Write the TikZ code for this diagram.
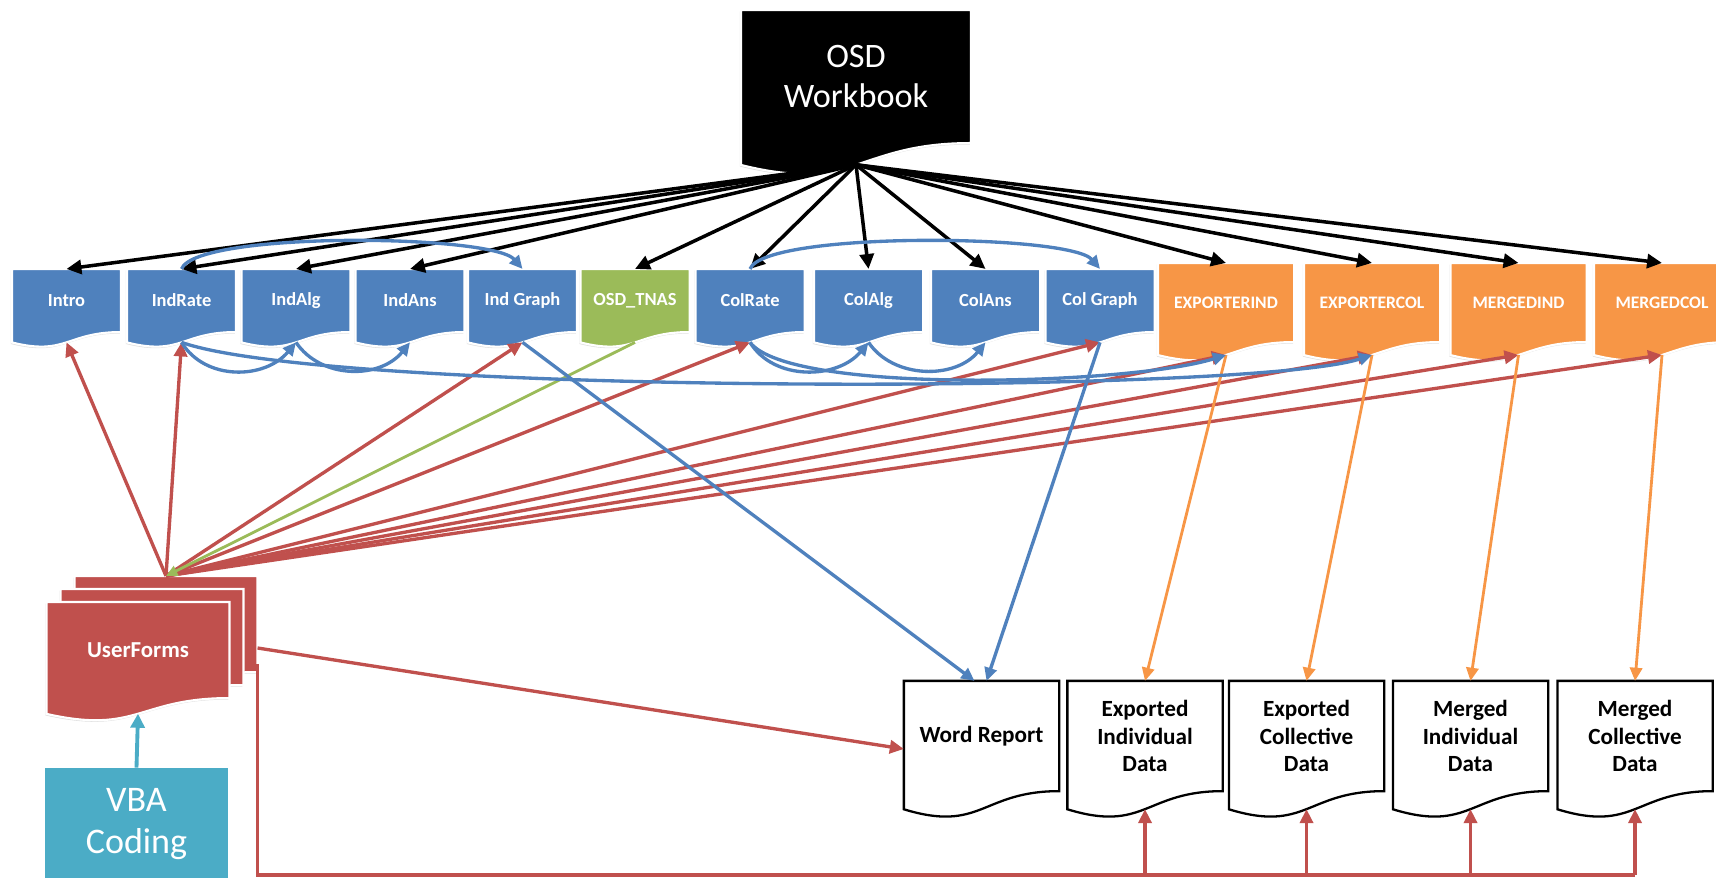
\documentclass[tikz,border=0pt]{standalone}
\usepackage{fontspec}
\setmainfont{Carlito}
\usetikzlibrary{arrows.meta, shadows, calc}

\definecolor{osdblue}{HTML}{4F81BD}
\definecolor{osdgreen}{HTML}{9BBB59}
\definecolor{osdorange}{HTML}{F79646}
\definecolor{osdred}{HTML}{C0504D}
\definecolor{osdteal}{HTML}{4BACC6}

% document shape: box with a wavy lower edge
\makeatletter
\pgfdeclareshape{sheet}{%
  \inheritsavedanchors[from=rectangle]%
  \inheritanchorborder[from=rectangle]%
  \inheritanchor[from=rectangle]{center}%
  \inheritanchor[from=rectangle]{north}%
  \inheritanchor[from=rectangle]{east}%
  \inheritanchor[from=rectangle]{west}%
  \inheritanchor[from=rectangle]{north east}%
  \inheritanchor[from=rectangle]{north west}%
  \anchor{south}{%
    \southwest \pgf@xa=\pgf@x \pgf@ya=\pgf@y
    \northeast
    \pgf@x=.5\pgf@x \advance\pgf@x by .5\pgf@xa
    \pgf@yb=\pgf@y
    \pgf@y=1.1633\pgf@ya
    \advance\pgf@y by -0.1633\pgf@yb
  }%
  \backgroundpath{%
    \southwest \pgf@xa=\pgf@x \pgf@ya=\pgf@y
    \northeast \pgf@xb=\pgf@x \pgf@yb=\pgf@y
    \pgf@xc=.5\pgf@xa \advance\pgf@xc by .5\pgf@xb
    \pgf@yc=\pgf@yb \advance\pgf@yc by -\pgf@ya
    \edef\shxa{\the\pgf@xa}\edef\shxb{\the\pgf@xb}\edef\shxc{\the\pgf@xc}%
    \edef\shya{\the\pgf@ya}\edef\shyb{\the\pgf@yb}%
    \edef\shyl{\the\dimexpr\pgf@yb-1.1646\pgf@yc\relax}%
    \edef\shyk{\the\dimexpr\pgf@yb-1.3803\pgf@yc\relax}%
    \pgfpathmoveto{\pgfqpoint{\shxa}{\shyb}}%
    \pgfpathlineto{\pgfqpoint{\shxb}{\shyb}}%
    \pgfpathlineto{\pgfqpoint{\shxb}{\shya}}%
    \pgfpathcurveto{\pgfqpoint{\shxc}{\shya}}{\pgfqpoint{\shxc}{\shyk}}{\pgfqpoint{\shxa}{\shyl}}%
    \pgfpathclose
  }%
}
\makeatother

\tikzset{
  basedoc/.style={shape=sheet, draw=white, line width=1.2pt, inner sep=0pt, text=white,
    drop shadow={shadow xshift=-0.6pt, shadow yshift=-0.9pt, opacity=0.25}},
  bluedoc/.style={basedoc, fill=osdblue, minimum width=2.14cm, minimum height=1.22cm,
    font=\bfseries\fontsize{10.5}{12}\selectfont},
  greendoc/.style={bluedoc, fill=osdgreen},
  orangedoc/.style={basedoc, fill=osdorange, minimum width=2.68cm, minimum height=1.54cm,
    font=\bfseries\fontsize{10}{12}\selectfont},
  bookdoc/.style={basedoc, fill=black, minimum width=4.56cm, minimum height=2.62cm,
    align=center, font=\fontsize{19.5}{23.3}\selectfont},
  formdoc/.style={basedoc, fill=osdred, minimum width=3.62cm, minimum height=1.88cm,
    font=\bfseries\fontsize{13}{15}\selectfont},
  datadoc/.style={shape=sheet, draw=black, line width=1.3pt, fill=white, inner sep=0pt,
    minimum width=3.06cm, minimum height=2.16cm, align=center,
    font=\bfseries\fontsize{13.2}{15.5}\selectfont},
  vbabox/.style={rectangle, fill=osdteal, text=white, minimum width=3.66cm,
    minimum height=2.24cm, align=center, font=\fontsize{20.5}{24}\selectfont},
  blackarrow/.style={draw=black, line width=2pt, -{Triangle[length=8.5pt,width=8pt]}},
  redarrow/.style={draw=osdred, line width=1.9pt, -{Triangle[length=8pt,width=7.5pt]}},
  redline/.style={draw=osdred, line width=2pt},
  bluearrow/.style={draw=osdblue, line width=1.9pt, -{Triangle[length=7.5pt,width=7pt]}},
  greenarrow/.style={draw=osdgreen, line width=1.6pt, -{Triangle[length=6.5pt,width=6pt]}},
  orangearrow/.style={draw=osdorange, line width=1.6pt, -{Triangle[length=7.5pt,width=7pt]}},
  tealarrow/.style={draw=osdteal, line width=2.2pt, -{Triangle[length=8pt,width=8pt]}}
}

\begin{document}
\begin{tikzpicture}[x=0.02cm, y=-0.02cm]
  \useasboundingbox (0,0) rectangle (1716,878);
  % Workbook
  \node[bookdoc] (osd) at (856,76.5) {OSD\\Workbook};
  % Sheets
  \foreach \n/\t/\x in {intro/Intro/66.5, indrate/IndRate/181.5, indalg/IndAlg/296,
      indans/IndAns/410, indgraph/Ind Graph/522.5, colrate/ColRate/750,
      colalg/ColAlg/868.5, colans/ColAns/985.5, colgraph/Col Graph/1100}
    \node[bluedoc] (\n) at (\x,300.5) {\t};
  \node[greendoc] (tnas) at (635,300.5) {OSD\_TNAS};
  \foreach \n/\t/\x in {expind/EXPORTERIND/1226, expcol/EXPORTERCOL/1372,
      mrgind/MERGEDIND/1518.5, mrgcol/MERGEDCOL/1662}
    \node[orangedoc] (\n) at (\x,302.5) {\t};
  % Outputs
  \node[datadoc] (word) at (981.5,736) {Word Report};
  \node[datadoc] (eidata) at (1145,736) {Exported\\Individual\\Data};
  \node[datadoc] (ecdata) at (1306.5,736) {Exported\\Collective\\Data};
  \node[datadoc] (midata) at (1470.5,736) {Merged\\Individual\\Data};
  \node[datadoc] (mcdata) at (1635,736) {Merged\\Collective\\Data};
  % UserForms and VBA
  \node[formdoc] (uf3) at (166,624) {};
  \node[formdoc] (uf2) at (152,637) {};
  \node[formdoc] (uf) at (138,650) {UserForms};
  \node[vbabox] (vba) at (136.5,824) {VBA\\Coding};

  % Workbook to sheets
  \foreach \t in {intro,indrate,indalg,indans,tnas,colrate,colalg,colans,expind,expcol,mrgind,mrgcol}
    \draw[blackarrow] (osd.south) -- (\t.north);
  % UserForms to sheets
  \foreach \t in {intro,indrate,indgraph,colrate,colgraph,expind,expcol,mrgind,mrgcol}
    \draw[redarrow] (uf3.north) -- (\t.south);
  \draw[greenarrow] (tnas.south) -- (uf3.north);
  \draw[redarrow] ($(uf3.east)+(0,24)$) -- ($(word.west)+(0,13)$);
  % UserForms to data files
  \coordinate (bus) at (0,875);
  \draw[redline] ($(uf3.east)+(0,40)$) |- (mcdata.south |- bus);
  \foreach \d in {eidata,ecdata,midata,mcdata}
    \draw[redarrow] (\d.south |- bus) -- (\d.south);
  % Graphs to report
  \draw[bluearrow] (indgraph.south) -- ($(word.north)+(-7,0)$);
  \draw[bluearrow] (colgraph.south) -- ($(word.north)+(5,0)$);
  % Exports
  \draw[orangearrow] (expind.south) -- (eidata.north);
  \draw[orangearrow] (expcol.south) -- (ecdata.north);
  \draw[orangearrow] (mrgind.south) -- (midata.north);
  \draw[orangearrow] (mrgcol.south) -- (mcdata.north);
  % Links between sheets
  \draw[bluearrow] (indrate.north) .. controls +(15,-38) and +(-30,-35) .. (indgraph.north);
  \draw[bluearrow] (colrate.north) .. controls +(15,-38) and +(-30,-35) .. (colgraph.north);
  \draw[bluearrow] (indrate.south) .. controls +(24,39) and +(-31,37) .. (indalg.south);
  \draw[bluearrow] (indalg.south) .. controls +(25,37) and +(-30,37) .. (indans.south);
  \draw[bluearrow] (colrate.south) .. controls +(24,39) and +(-31,37) .. (colalg.south);
  \draw[bluearrow] (colalg.south) .. controls +(25,37) and +(-30,37) .. (colans.south);
  \draw[bluearrow] (indrate.south) .. controls (330,395) and (1250,395) .. (expcol.south);
  \draw[bluearrow] (colrate.south) .. controls (790,395) and (1130,385) .. (expind.south);
  % Code
  \draw[tealarrow] (vba.north) -- (uf.south);
\end{tikzpicture}
\end{document}
